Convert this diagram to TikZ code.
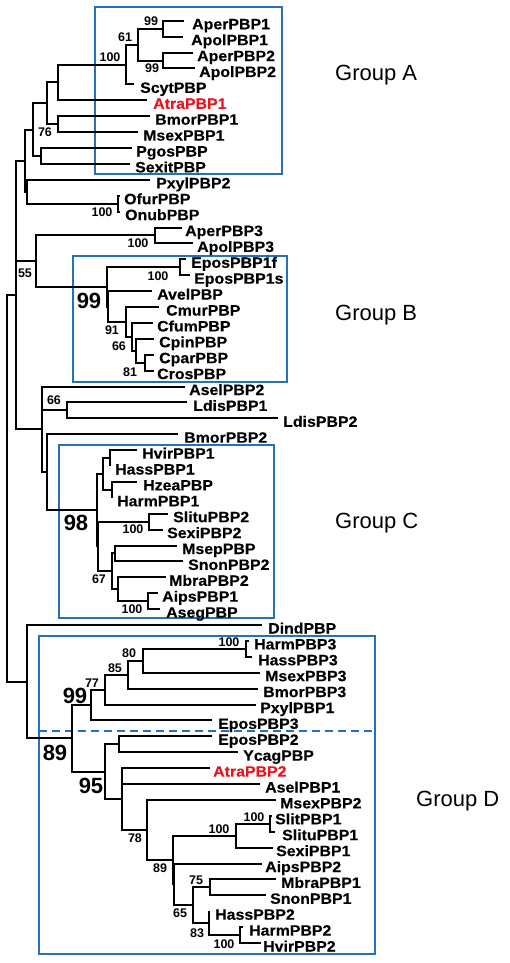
\documentclass[tikz,border=0pt]{standalone}
\usepackage{fontspec}
\setmainfont{Liberation Sans}
\newfontfamily\leaffont{Liberation Sans}[FakeStretch=1.06,FakeBold=0.3]
\usetikzlibrary{calc}
\definecolor{boxblue}{RGB}{38,112,183}
\definecolor{atrared}{RGB}{235,20,30}
\tikzset{
  br/.style={line width=2pt, black},
  leaflab/.style={anchor=base west, inner sep=0pt, font=\leaffont\bfseries\fontsize{15}{15}\selectfont},
  redlab/.style={text=atrared},
  bs/.style={inner sep=0pt, font=\bfseries\fontsize{12.5}{12.5}\selectfont},
  bb/.style={inner sep=0pt, font=\bfseries\fontsize{22}{22}\selectfont},
  grp/.style={anchor=west, inner sep=0pt, font=\fontsize{22}{22}\selectfont},
  boxline/.style={draw=boxblue, line width=2.2pt},
  declare function={ry(\r)=20.8+15.9*\r;}
}
\newcommand\leaf[6][]{%
  \coordinate (#2) at (#4,{ry(#3)});
  \node[leaflab,#1] (#2-t) at (#5,{ry(#3)+8.5}) {#6};}
\newcommand\bnode[4]{%
  \path let \p1=(#3), \p2=(#4) in coordinate (#1) at (#2pt,{(\y1+\y2)/2});
  \draw[br] (#1) |- (#3);
  \draw[br] (#1) |- (#4);}
\newcommand\tnode[5]{%
  \path let \p1=(#3), \p2=(#5) in coordinate (#1) at (#2pt,{(\y1+\y2)/2});
  \draw[br] (#1) |- (#3);
  \draw[br] (#1) |- (#4);
  \draw[br] (#1) |- (#5);}
\begin{document}
\begin{tikzpicture}[x=1pt,y=-1pt]
\fill[white] (0,0) rectangle (510,963);
\useasboundingbox (0,0) rectangle (510,963);
% boxes
\draw[boxline] (95,7) rectangle (282,174);
\draw[boxline] (73,256) rectangle (287,382);
\draw[boxline] (59,445) rectangle (274,618);
\draw[boxline] (39,636) rectangle (375,954);
\coordinate (dl) at (39,731);
\coordinate (dr) at (375,731);
\draw[boxblue, line width=2.4pt, dash pattern=on 8pt off 5pt] (dl) -- (dr);
% leaves
\leaf{l0}{0}{184}{192}{AperPBP1}
\leaf{l1}{1}{183}{191}{ApolPBP1}
\leaf{l2}{2}{193}{197}{AperPBP2}
\leaf{l3}{3}{195}{199}{ApolPBP2}
\leaf{l4}{4}{134}{140}{ScytPBP}
\leaf[redlab]{l5}{5}{147}{153}{AtraPBP1}
\leaf{l6}{6}{150}{155}{BmorPBP1}
\leaf{l7}{7}{138}{143}{MsexPBP1}
\leaf{l8}{8}{132}{136}{PgosPBP}
\leaf{l9}{9}{130}{135}{SexitPBP}
\leaf{l10}{10}{150}{156}{PxylPBP2}
\leaf{l11}{11}{120}{124}{OfurPBP}
\leaf{l12}{12}{120}{125}{OnubPBP}
\leaf{l13}{13}{182}{185}{AperPBP3}
\leaf{l14}{14}{193}{197}{ApolPBP3}
\leaf{l15}{15}{186}{191}{EposPBP1f}
\leaf{l16}{16}{190}{194}{EposPBP1s}
\leaf{l17}{17}{152}{157}{AvelPBP}
\leaf{l18}{18}{159}{166}{CmurPBP}
\leaf{l19}{19}{153}{157}{CfumPBP}
\leaf{l20}{20}{154}{159}{CpinPBP}
\leaf{l21}{21}{154}{159}{CparPBP}
\leaf{l22}{22}{154}{157}{CrosPBP}
\leaf{l23}{23}{185}{189}{AselPBP2}
\leaf{l24}{24}{187}{193}{LdisPBP1}
\leaf{l25}{25}{278}{283}{LdisPBP2}
\leaf{l26}{26}{178}{184}{BmorPBP2}
\leaf{l27}{27}{137}{142}{HvirPBP1}
\leaf{l28}{28}{110}{115}{HassPBP1}
\leaf{l29}{29}{137}{143}{HzeaPBP}
\leaf{l30}{30}{112}{117}{HarmPBP1}
\leaf{l31}{31}{168}{173}{SlituPBP2}
\leaf{l32}{32}{163}{167}{SexiPBP2}
\leaf{l33}{33}{177}{182}{MsepPBP}
\leaf{l34}{34}{183}{188}{SnonPBP2}
\leaf{l35}{35}{166}{169}{MbraPBP2}
\leaf{l36}{36}{158}{162}{AipsPBP1}
\leaf{l37}{37}{160}{166}{AsegPBP}
\leaf{l38}{38}{262}{268}{DindPBP}
\leaf{l39}{39}{249}{254}{HarmPBP3}
\leaf{l40}{40}{252}{258}{HassPBP3}
\leaf{l41}{41}{260}{265}{MsexPBP3}
\leaf{l42}{42}{258}{263}{BmorPBP3}
\leaf{l43}{43}{256}{260}{PxylPBP1}
\leaf{l44}{44}{212}{218}{EposPBP3}
\leaf{l45}{45}{212}{218}{EposPBP2}
\leaf{l46}{46}{238}{243}{YcagPBP}
\leaf[redlab]{l47}{47}{210}{213}{AtraPBP2}
\leaf{l48}{48}{260}{265}{AselPBP1}
\leaf{l49}{49}{276}{280}{MsexPBP2}
\leaf{l50}{50}{272}{275}{SlitPBP1}
\leaf{l51}{51}{275}{282}{SlituPBP1}
\leaf{l52}{52}{273}{276}{SexiPBP1}
\leaf{l53}{53}{262}{265}{AipsPBP2}
\leaf{l54}{54}{276}{281}{MbraPBP1}
\leaf{l55}{55}{266}{270}{SnonPBP1}
\leaf{l56}{56}{209}{215}{HassPBP2}
\leaf{l57}{57}{243}{249}{HarmPBP2}
\leaf{l58}{58}{261}{263}{HvirPBP2}
% internal nodes
\bnode{n99a}{163}{l0}{l1}
\bnode{n99b}{163}{l2}{l3}
\bnode{n61}{138}{n99a}{n99b}
\bnode{n100a}{126}{n61}{l4}
\bnode{nA1}{58}{n100a}{l5}
\bnode{n76}{58}{l6}{l7}
\bnode{nA2}{47}{nA1}{n76}
\bnode{nPS}{41}{l8}{l9}
\bnode{nA3}{33}{nA2}{nPS}
\bnode{nOO}{118}{l11}{l12}
\bnode{nSub}{26.5}{l10}{nOO}
\bnode{nP}{24.5}{nA3}{nSub}
\bnode{n100c}{155}{l13}{l14}
\bnode{n100d}{180}{l15}{l16}
\bnode{n81}{145}{l21}{l22}
\bnode{n66}{136}{l20}{n81}
\bnode{n91}{132}{l19}{n66}
\bnode{nCm}{126}{l18}{n91}
\bnode{nB2}{108}{l17}{nCm}
\bnode{nB1}{107}{n100d}{nB2}
\bnode{n55}{36}{n100c}{nB1}
\bnode{nLd}{67}{l24}{l25}
\bnode{nHH}{110}{l27}{l28}
\bnode{nHZ}{112}{l29}{l30}
\bnode{nH}{103}{nHH}{nHZ}
\bnode{n100e}{149}{l31}{l32}
\bnode{nMS}{115}{l33}{l34}
\bnode{n100f}{148}{l36}{l37}
\bnode{nMA}{118}{l35}{n100f}
\bnode{n67}{112}{nMS}{nMA}
\bnode{nC2}{98}{n100e}{n67}
\bnode{nC}{97}{nH}{nC2}
\bnode{nBm}{47}{l26}{nC}
\tnode{n66L}{42}{l23}{nLd}{nBm}
\tnode{nR1}{16}{nP}{n55}{n66L}
\bnode{n100g}{246}{l39}{l40}
\bnode{n80}{143}{n100g}{l41}
\bnode{n85}{128}{n80}{l42}
\bnode{n77}{105}{n85}{l43}
\bnode{n99D}{91}{n77}{l44}
\bnode{nEY}{119}{l45}{l46}
\bnode{n100j}{270}{l50}{l51}
\bnode{n100h}{236}{n100j}{l52}
\bnode{n75}{210}{l54}{l55}
\bnode{n100i}{240}{l57}{l58}
\bnode{n83}{209}{l56}{n100i}
\bnode{n65}{193}{n75}{n83}
\bnode{nX}{174}{l53}{n65}
\bnode{n89b}{173}{n100h}{nX}
\bnode{n78}{147}{l49}{n89b}
\tnode{nAt}{122}{l47}{l48}{n78}
\bnode{n95}{105}{nEY}{nAt}
\bnode{n89}{72}{n99D}{n95}
\bnode{nDi}{27}{l38}{n89}
\bnode{root}{7}{nR1}{nDi}
% support values
\node[bs] (s1) at (151,21) {99};
\node[bs] (s2) at (125,37) {61};
\node[bs] (s3) at (110,57) {100};
\node[bs] (s4) at (152,68) {99};
\node[bs] (s5) at (45,132) {76};
\node[bs] (s6) at (102,212) {100};
\node[bs] (s7) at (138,243) {100};
\node[bs] (s8) at (158,276) {100};
\node[bs] (s9) at (112,330) {91};
\node[bs] (s10) at (119,346) {66};
\node[bs] (s11) at (130,372) {81};
\node[bs] (s12) at (25,273) {55};
\node[bs] (s13) at (54,400) {66};
\node[bs] (s14) at (133,529) {100};
\node[bs] (s15) at (99,579) {67};
\node[bs] (s16) at (132,609) {100};
\node[bs] (s17) at (229,642) {100};
\node[bs] (s18) at (129,653) {80};
\node[bs] (s19) at (115,668) {85};
\node[bs] (s20) at (92,683) {77};
\node[bs] (s21) at (254,817) {100};
\node[bs] (s22) at (219,829) {100};
\node[bs] (s23) at (135,838) {78};
\node[bs] (s24) at (160,868) {89};
\node[bs] (s25) at (196,880) {75};
\node[bs] (s26) at (180,913) {65};
\node[bs] (s27) at (197,933) {83};
\node[bs] (s28) at (224,944) {100};
\node[bb] (b1) at (89,301) {99};
\node[bb] (b2) at (76,523) {98};
\node[bb] (b3) at (75,696) {99};
\node[bb] (b4) at (55,753) {89};
\node[bb] (b5) at (91,786) {95};
% group labels
\node[grp] (gA) at (335,75) {Group A};
\node[grp] (gB) at (335,315) {Group B};
\node[grp] (gC) at (335,523) {Group C};
\node[grp] (gD) at (416,801) {Group D};
\end{tikzpicture}
\end{document}
